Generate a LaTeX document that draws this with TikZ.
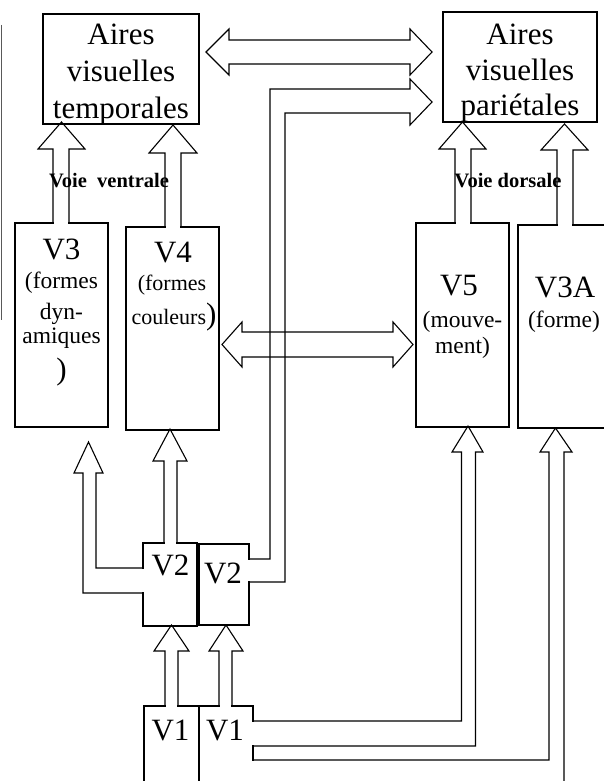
\documentclass[tikz,border=0pt]{standalone}
\usepackage{fontspec}
\setmainfont{Liberation Serif}
\begin{document}
\begin{tikzpicture}[x=1pt,y=-1pt,
  line width=1.1pt,
  box/.style={draw, inner sep=0pt},
  mouthfill/.style={fill=white, draw=none},
  blockarrow/.style={draw, line join=miter},
  lab/.style={anchor=base, inner sep=0pt, font=\fontsize{31}{31}\selectfont},
  sublab/.style={anchor=base, inner sep=0pt, font=\fontsize{23.5}{23.5}\selectfont},
  smalllab/.style={anchor=base, inner sep=0pt, font=\fontsize{22}{22}\selectfont},
  pathlab/.style={anchor=base, inner sep=0pt, font=\fontsize{20.5}{20.5}\selectfont\bfseries}]
\useasboundingbox (0,0) rectangle (604,781);
\clip (0,0) rectangle (604,781);

% ---- areas ----
\node[box, minimum width=156pt, minimum height=110pt] (temp) at (121,69) {};
\node[box, minimum width=154pt, minimum height=110pt] (par)  at (520,67) {};
\node[box, minimum width=93pt, minimum height=204pt] (v3)  at (61.5,325) {};
\node[box, minimum width=93pt, minimum height=203pt] (v4)  at (172.5,328.5) {};
\node[box, minimum width=93pt, minimum height=204pt] (v5)  at (462.5,325) {};
\node[box, minimum width=93pt, minimum height=203pt] (v3a) at (564.5,326.5) {};
\node[box, minimum width=54pt, minimum height=83pt] (v2a) at (170,584.5) {};
\node[box, minimum width=50pt, minimum height=81pt] (v2b) at (224,584.5) {};
\node[box, minimum width=55pt, minimum height=94pt] (v1a) at (171.5,753) {};
\node[box, minimum width=54pt, minimum height=94pt] (v1b) at (226,753) {};

% ---- openings where the arrow shafts leave or enter a box ----
\fill[mouthfill] (53.6,221) rectangle (68.4,225);
\fill[mouthfill] (165.6,225) rectangle (180.4,229);
\fill[mouthfill] (455.6,221) rectangle (470.4,225);
\fill[mouthfill] (557.6,223) rectangle (572.4,227);
\fill[mouthfill] (164.6,541) rectangle (176.4,545);
\fill[mouthfill] (141,568.6) rectangle (145,592.4);
\fill[mouthfill] (247,559.6) rectangle (251,581.4);
\fill[mouthfill] (165.6,704) rectangle (177.4,708);
\fill[mouthfill] (219.6,704) rectangle (231.4,708);
\fill[mouthfill] (251,721.6) rectangle (255,745.4);
\fill[mouthfill] (251,760.6) rectangle (255,800);

% ---- texts ----
\node[lab] at (121,45) {Aires};
\node[lab] at (121,82) {visuelles};
\node[lab] at (121,118) {temporales};
\node[lab] at (520,45) {Aires};
\node[lab] at (520,81) {visuelles};
\node[lab] at (520,116) {pariétales};

\node[lab] at (61.5,259) {V3};
\node[sublab] at (61.5,288) {(formes};
\node[sublab] at (61.5,319) {dyn-};
\node[sublab] at (61.5,343) {amiques};
\node[lab] at (61.5,379) {)};

\node[lab] at (173,262) {V4};
\node[smalllab] at (172,290) {(formes};
\node[anchor=base west, inner sep=0pt] at (131,324)
  {\fontsize{22}{22}\selectfont couleurs\fontsize{31}{31}\selectfont)};

\node[lab] at (459,295) {V5};
\node[sublab] at (462.5,327) {(mouve-};
\node[sublab] at (462.5,353) {ment)};

\node[lab] at (565,297) {V3A};
\node[sublab] at (564,327) {(forme)};

\node[lab] at (170.5,575) {V2};
\node[lab] at (223,583) {V2};
\node[lab] at (170.5,740) {V1};
\node[lab] at (225,740) {V1};

% ---- block arrows ----
% V3 and V4 up to the temporal areas
\draw[blockarrow] (53,223) -- (53,149) -- (38,149) -- (61.5,122) -- (85,149) -- (69,149) -- (69,223);
\draw[blockarrow] (165,227) -- (165,153) -- (149,153) -- (173,125) -- (197,153) -- (181,153) -- (181,227);
% V5 and V3A up to the parietal areas
\draw[blockarrow] (455,223) -- (455,149) -- (439,149) -- (462.5,122) -- (486,149) -- (471,149) -- (471,223);
\draw[blockarrow] (557,225) -- (557,150) -- (541,150) -- (564.5,124) -- (588,150) -- (573,150) -- (573,225);

% two-way links
\draw[blockarrow] (229,40) -- (410,40) -- (410,29) -- (432,52) -- (410,75) -- (410,64)
  -- (229,64) -- (229,75) -- (206,52) -- (229,29) -- cycle;
\draw[blockarrow] (242,332) -- (393,332) -- (393,322) -- (413,344.5) -- (393,367) -- (393,357)
  -- (242,357) -- (242,367) -- (222,344.5) -- (242,322) -- cycle;

% V2 outputs
\draw[blockarrow] (164,543) -- (164,461) -- (153,461) -- (170,429) -- (187,461) -- (177,461) -- (177,543);
\draw[blockarrow] (143,593) -- (83,593) -- (83,473) -- (74,473) -- (88.5,442) -- (103,473)
  -- (96,473) -- (96,568) -- (143,568);
\draw[blockarrow] (249,559) -- (270,559) -- (270,89) -- (410,89) -- (410,79) -- (432,102)
  -- (410,125) -- (410,113) -- (285,113) -- (285,582) -- (249,582);

% V1 outputs
\draw[blockarrow] (165,706) -- (165,651) -- (154,651) -- (171.5,625) -- (189,651) -- (178,651) -- (178,706);
\draw[blockarrow] (219,706) -- (219,651) -- (209,651) -- (226,625) -- (243,651) -- (232,651) -- (232,706);
\draw[blockarrow] (253,721) -- (461.5,721) -- (461.5,452) -- (452,452) -- (468,426) -- (483,452)
  -- (475.5,452) -- (475.5,746) -- (253,746);
\draw[blockarrow] (253,760) -- (549,760) -- (549,452) -- (540,452) -- (555.5,428) -- (572,452)
  -- (564,452) -- (564,790);

% pathway names
\node[pathlab] at (109,187) {Voie~~ventrale};
\node[pathlab] at (508,187) {Voie dorsale};

% margin rule
\draw[gray!70!black, line width=1pt] (1.5,25) -- (1.5,320);
\end{tikzpicture}
\end{document}
